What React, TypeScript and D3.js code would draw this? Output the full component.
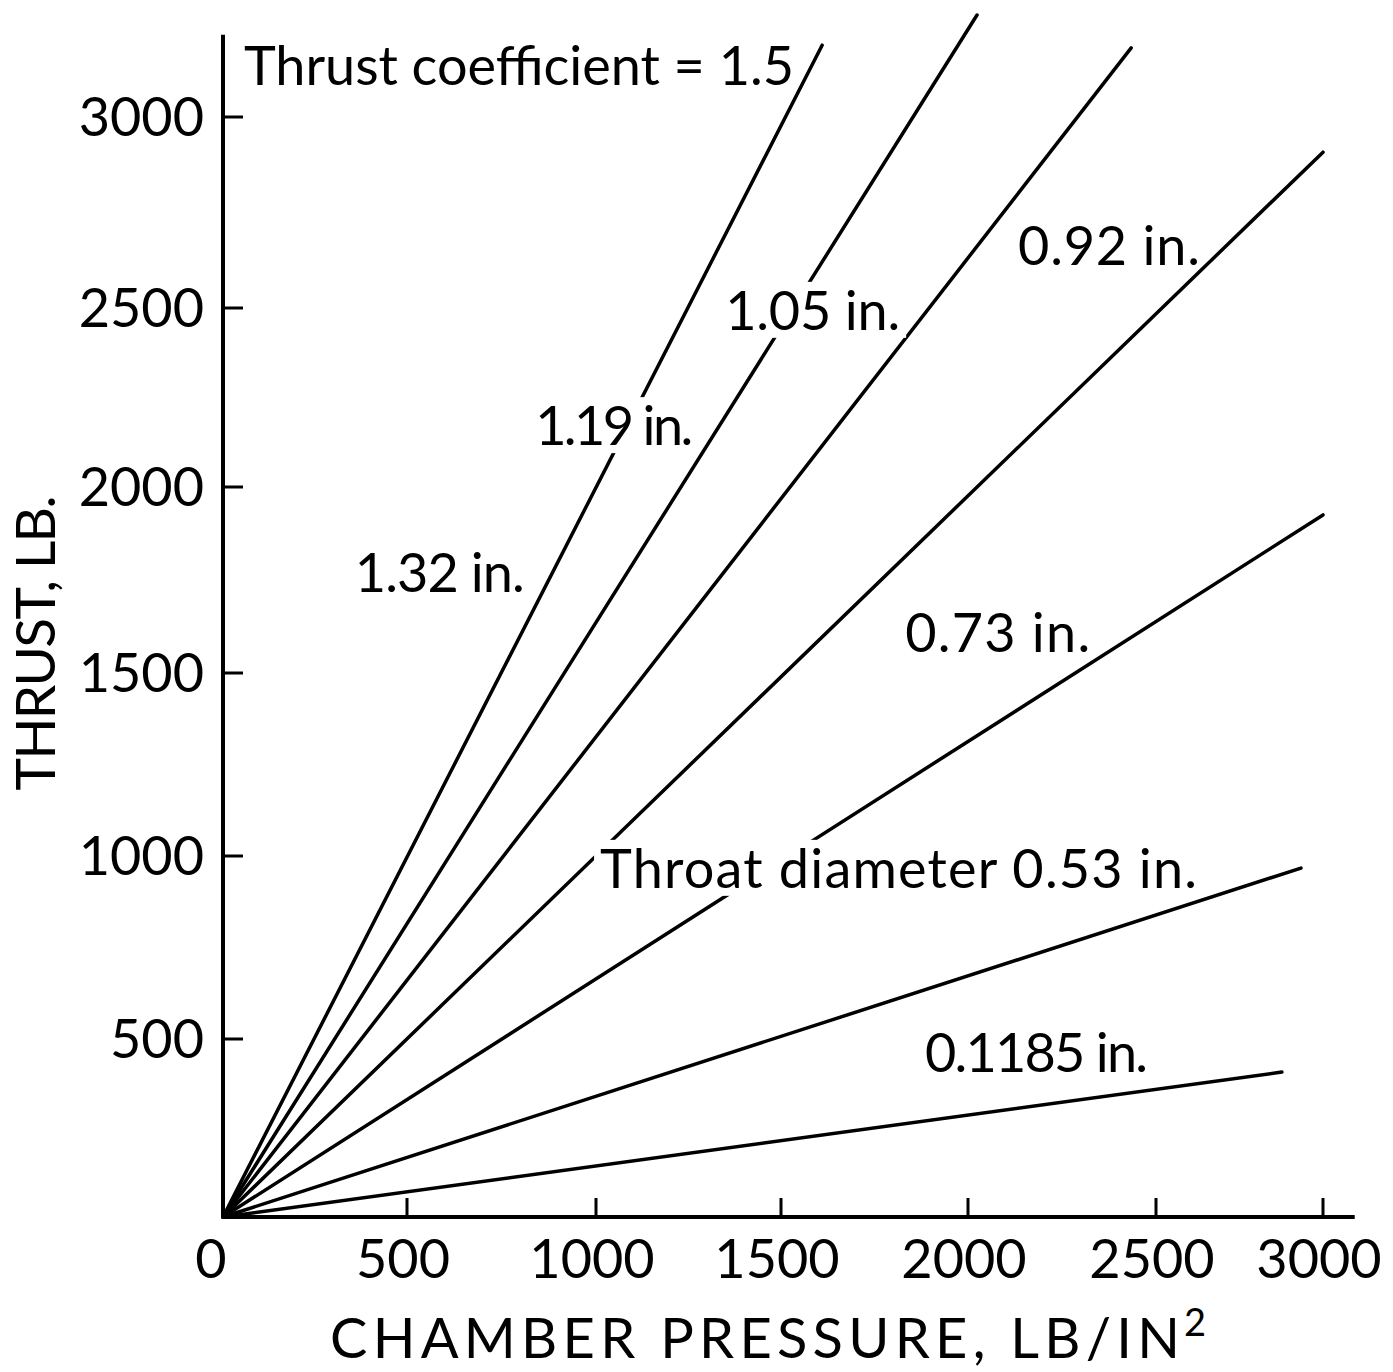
import React from "react";
import * as d3 from "d3";

// ---- data ----
const pressureTicks = [0, 500, 1000, 1500, 2000, 2500, 3000];
const thrustTicks = [500, 1000, 1500, 2000, 2500, 3000];

const diameters = ["1.32", "1.19", "1.05", "0.92", "0.73", "0.53", "0.1185"];
// each line starts at the origin and ends at (endPressure, endThrust)
const endPressure = [1610, 2024, 2434, 3000, 3000, 2934, 2877];
const endThrust = [3188, 3267, 3181, 2908, 1925, 967, 407];

const labelTexts = [
  "Thrust coefficient = 1.5",
  "1.32 in.",
  "1.19 in.",
  "1.05 in.",
  "0.92 in.",
  "0.73 in.",
  "Throat diameter 0.53 in.",
  "0.1185 in.",
];
// label anchor (left end of baseline) in data units
const labelPressure = [57, 358, 839, 1349, 2133, 1832, 1011, 1885];
const labelThrust = [3084, 1718, 2117, 2439, 2613, 1556, 913, 407];

// ---- layout / style ----
const W = 1393;
const H = 1372;
// hand-drawn axis calibration (pixel position of each tick)
const xTickPx = [223, 407, 596, 781, 968, 1156, 1323];
const yTickPx = [1217, 1039, 856, 673, 487, 308, 117];
const xAxisEnd = 3095;
const yAxisEnd = 3215;
const labelLengths = [550, 170, 158, 175, 182, 185, 597, 223];
const knockout = [false, false, true, true, false, false, true, false];
const FONT = "Lato, 'Liberation Sans', sans-serif";
const FS = 54;
const CAP = 38;

export default function App() {
  const x = d3.scaleLinear().domain(pressureTicks).range(xTickPx);
  const y = d3.scaleLinear().domain([0, ...thrustTicks]).range(yTickPx);
  const line = d3
    .line<[number, number]>()
    .x((d) => x(d[0]))
    .y((d) => y(d[1]));

  return (
    <svg
      width={W}
      height={H}
      style={{ position: "absolute", left: 0, top: 0, background: "#fff" }}
      fontFamily={FONT}
    >
      <rect x={0} y={0} width={W} height={H} fill="#fff" />
      {/* series lines */}
      {diameters.map((d, i) => (
        <path
          key={d}
          d={line([
            [0, 0],
            [endPressure[i], endThrust[i]],
          ]) || ""}
          fill="none"
          stroke="#000"
          strokeWidth={3.5}
          strokeLinecap="round"
        />
      ))}
      {/* axes */}
      <line x1={x(0)} x2={x(xAxisEnd)} y1={y(0)} y2={y(0)} stroke="#000" strokeWidth={4} />
      <line x1={x(0)} x2={x(0)} y1={y(0)} y2={y(yAxisEnd)} stroke="#000" strokeWidth={4} />
      {pressureTicks.slice(1).map((v) => (
        <line key={"xt" + v} x1={x(v)} x2={x(v)} y1={y(0)} y2={y(0) - 19} stroke="#000" strokeWidth={3} />
      ))}
      {thrustTicks.map((v) => (
        <line key={"yt" + v} x1={x(0)} x2={x(0) + 20} y1={y(v)} y2={y(v)} stroke="#000" strokeWidth={3} />
      ))}
      {pressureTicks.map((v, i) => (
        <text
          key={"xl" + v}
          x={x(v) - (i === 0 ? 12 : 4)}
          y={1278}
          textAnchor="middle"
          fontSize={FS}
          fill="#000"
        >
          {v}
        </text>
      ))}
      {thrustTicks.map((v) => (
        <text key={"yl" + v} x={204} y={y(v) + CAP / 2} textAnchor="end" fontSize={FS} fill="#000">
          {v}
        </text>
      ))}
      {/* axis titles */}
      <text x={330} y={1358} fontSize={56} textLength={850} lengthAdjust="spacing" fill="#000">
        CHAMBER PRESSURE, LB/IN
      </text>
      <text x={1184} y={1336} fontSize={38} fill="#000">
        2
      </text>
      <text
        transform="translate(55,643) rotate(-90)"
        x={0}
        y={0}
        textAnchor="middle"
        fontSize={55}
        textLength={295}
        lengthAdjust="spacing"
        fill="#000"
      >
        THRUST, LB.
      </text>
      {/* labels */}
      {labelTexts.map((t, i) => {
        const lx = x(labelPressure[i]);
        const ly = y(labelThrust[i]);
        return (
          <g key={t}>
            {knockout[i] && (
              <rect x={lx - 6} y={ly - CAP - 10} width={labelLengths[i] + 12} height={CAP + 18} fill="#fff" />
            )}
            <text x={lx} y={ly} fontSize={FS} textLength={labelLengths[i]} lengthAdjust="spacing" fill="#000">
              {t}
            </text>
          </g>
        );
      })}
    </svg>
  );
}
